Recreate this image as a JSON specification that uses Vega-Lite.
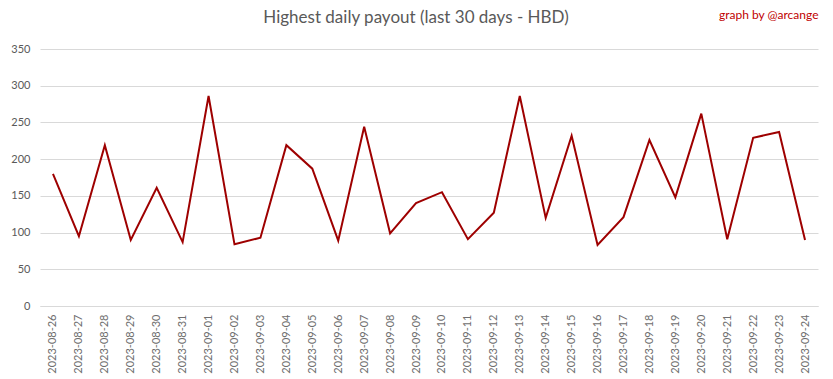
{
  "$schema": "https://vega.github.io/schema/vega-lite/v6.json",
  "width": 778,
  "height": 257,
  "autosize": {"type": "none"},
  "padding": {"left": 40, "top": 49, "right": 15, "bottom": 73},
  "background": "white",
  "title": {
    "text": "Highest daily payout (last 30 days - HBD)",
    "anchor": "middle",
    "frame": "group",
    "dx": -13,
    "offset": -19,
    "fontSize": 17,
    "font": "Lato",
    "fontWeight": "normal",
    "color": "#595959"
  },
  "config": {
    "view": {"stroke": null},
    "axis": {"labelFont": "Lato", "titleFont": "Lato", "labelColor": "#595959"}
  },
  "data": {
    "values": [
      {"date": "2023-08-26", "payout": 180},
      {"date": "2023-08-27", "payout": 95},
      {"date": "2023-08-28", "payout": 219},
      {"date": "2023-08-29", "payout": 90},
      {"date": "2023-08-30", "payout": 161},
      {"date": "2023-08-31", "payout": 87},
      {"date": "2023-09-01", "payout": 286},
      {"date": "2023-09-02", "payout": 84},
      {"date": "2023-09-03", "payout": 93},
      {"date": "2023-09-04", "payout": 219},
      {"date": "2023-09-05", "payout": 187},
      {"date": "2023-09-06", "payout": 89},
      {"date": "2023-09-07", "payout": 244},
      {"date": "2023-09-08", "payout": 99},
      {"date": "2023-09-09", "payout": 140},
      {"date": "2023-09-10", "payout": 155},
      {"date": "2023-09-11", "payout": 91},
      {"date": "2023-09-12", "payout": 127},
      {"date": "2023-09-13", "payout": 286},
      {"date": "2023-09-14", "payout": 120},
      {"date": "2023-09-15", "payout": 232},
      {"date": "2023-09-16", "payout": 83},
      {"date": "2023-09-17", "payout": 121},
      {"date": "2023-09-18", "payout": 226},
      {"date": "2023-09-19", "payout": 148},
      {"date": "2023-09-20", "payout": 262},
      {"date": "2023-09-21", "payout": 91},
      {"date": "2023-09-22", "payout": 229},
      {"date": "2023-09-23", "payout": 237},
      {"date": "2023-09-24", "payout": 90}
    ]
  },
  "encoding": {
    "y": {
      "field": "payout",
      "type": "quantitative",
      "scale": {"domain": [0, 350], "nice": false},
      "axis": {
        "title": null,
        "values": [0, 50, 100, 150, 200, 250, 300, 350],
        "labelOverlap": false,
        "domain": false,
        "ticks": false,
        "labelFontSize": 11,
        "labelPadding": 10,
        "gridColor": "#D9D9D9"
      }
    }
  },
  "resolve": {"axis": {"x": "independent"}},
  "layer": [
    {
      "mark": {"type": "line", "color": "#9E0000", "strokeWidth": 2},
      "encoding": {
        "x": {
          "field": "date",
          "type": "ordinal",
          "scale": {"type": "point", "padding": 0.5},
          "axis": {
            "title": null,
            "labelAngle": -90,
            "labelFontSize": 11,
            "labelColor": "#6E6E6E",
            "labelPadding": 8,
            "ticks": false,
            "domainColor": "#D9D9D9",
            "grid": false
          }
        }
      }
    },
    {
      "mark": {"type": "line", "strokeOpacity": 0},
      "encoding": {
        "x": {
          "field": "date",
          "type": "ordinal",
          "axis": {
            "orient": "top",
            "labels": false,
            "ticks": false,
            "domain": false,
            "grid": false,
            "title": "graph by @arcange",
            "titleAnchor": "end",
            "titleColor": "#C00000",
            "titleFont": "Lato",
            "titleFontSize": 12,
            "titleFontWeight": "normal",
            "titlePadding": 28
          }
        }
      }
    }
  ]
}
